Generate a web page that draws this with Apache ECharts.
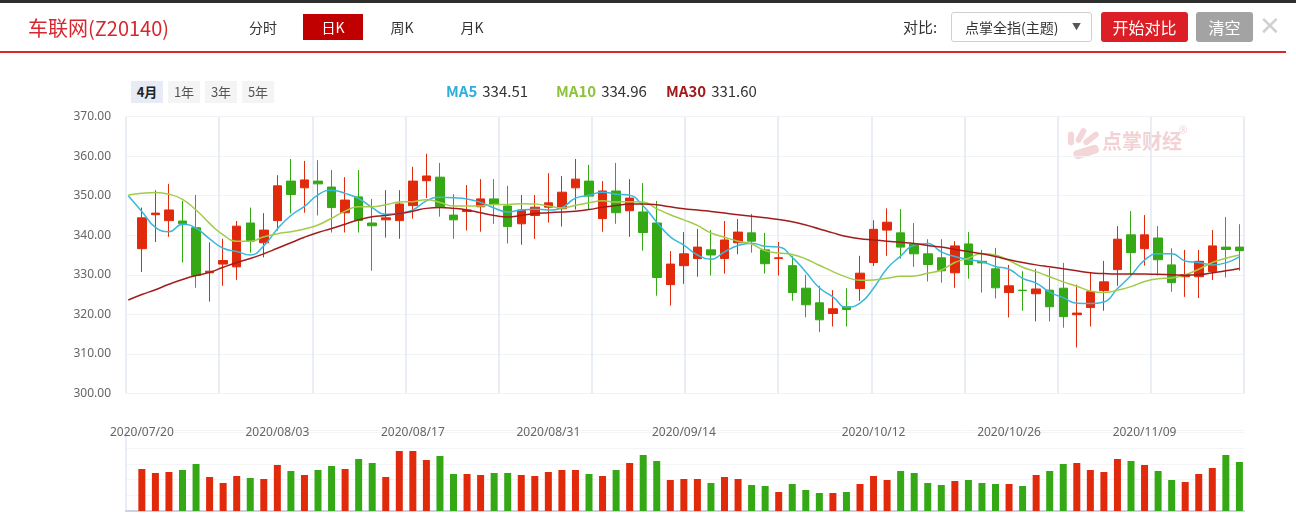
<!DOCTYPE html>
<html>
<head>
<meta charset="utf-8">
<script src="https://cdn.jsdelivr.net/npm/echarts@6/dist/echarts.min.js"></script>
<style>
  html, body { margin: 0; padding: 0; background: #fff; }
  body { width: 1296px; height: 515px; position: relative; overflow: hidden;
         font-family: "Noto Sans CJK SC", "Noto Sans", sans-serif; color: #333; }
  #main { position: absolute; left: 0; top: 0; width: 1296px; height: 515px; }
  .abs { position: absolute; white-space: nowrap; }
  .topbar { left: 0; top: 0; width: 1296px; height: 3px; background: #2e2e2e; }
  .title { left: 28px; top: 13px; font-size: 20px; line-height: 30px; color: #d7262e; }
  .tab { top: 14px; height: 26px; line-height: 26px; font-size: 14px; text-align: center; width: 60px; }
  .tab.on { background: #c00000; color: #fff; }
  .redline { left: 0; top: 51px; width: 1286px; height: 2px; background: #d7262e; }
  .sel { left: 951px; top: 12px; width: 139px; height: 28px; border: 1px solid #d0d0d0; border-radius: 3px;
         font-size: 14px; line-height: 28px; }
  .btn { top: 12px; height: 30px; line-height: 30px; font-size: 16px; color: #fff; text-align: center; border-radius: 3px; }
  .rng { top: 81px; height: 22px; width: 32px; line-height: 22px; font-size: 13px; text-align: center; background: #f4f4f4; color: #555; }
  .ma { top: 80px; font-size: 15px; line-height: 22px; }
  .ma b { margin-right: 5px; }
</style>
</head>
<body>
<div id="main"></div>
<div class="abs topbar"></div>
<div class="abs title">车联网(Z20140)</div>
<div class="abs tab" style="left:233px">分时</div>
<div class="abs tab on" style="left:303px">日K</div>
<div class="abs tab" style="left:372px">周K</div>
<div class="abs tab" style="left:442px">月K</div>
<div class="abs" style="left:903px;top:14px;font-size:15px;line-height:26px">对比:</div>
<div class="abs sel"><span style="margin-left:13px">点掌全指(主题)</span><span style="position:absolute;left:120px;top:0;font-size:9px;color:#555">▼</span></div>
<div class="abs btn" style="left:1101px;width:87px;background:#dc1f26">开始对比</div>
<div class="abs btn" style="left:1196px;width:57px;background:#a3a3a3">清空</div>
<div class="abs" style="left:1259px;top:8px;font-size:26px;line-height:32px;color:#d0d0d0">✕</div>
<div class="abs redline"></div>
<div class="abs rng" style="left:131px;background:#e6ebf5;color:#222;font-weight:bold">4月</div>
<div class="abs rng" style="left:168px">1年</div>
<div class="abs rng" style="left:205px">3年</div>
<div class="abs rng" style="left:242px">5年</div>
<div class="abs ma" style="left:446px"><b style="color:#2eaed8">MA5</b>334.51</div>
<div class="abs ma" style="left:556px"><b style="color:#8dc33b">MA10</b>334.96</div>
<div class="abs ma" style="left:666px"><b style="color:#a01a1a">MA30</b>331.60</div>

<script>
// trading days, first one is the day before the window (only the MA lines start there)
const dates = [
  '2020/07/17',
  '2020/07/20','2020/07/21','2020/07/22','2020/07/23','2020/07/24','2020/07/27','2020/07/28','2020/07/29','2020/07/30','2020/07/31',
  '2020/08/03','2020/08/04','2020/08/05','2020/08/06','2020/08/07','2020/08/10','2020/08/11','2020/08/12','2020/08/13','2020/08/14',
  '2020/08/17','2020/08/18','2020/08/19','2020/08/20','2020/08/21','2020/08/24','2020/08/25','2020/08/26','2020/08/27','2020/08/28',
  '2020/08/31','2020/09/01','2020/09/02','2020/09/03','2020/09/04','2020/09/07','2020/09/08','2020/09/09','2020/09/10','2020/09/11',
  '2020/09/14','2020/09/15','2020/09/16','2020/09/17','2020/09/18','2020/09/21','2020/09/22','2020/09/23','2020/09/24','2020/09/25',
  '2020/09/28','2020/09/29','2020/09/30','2020/10/09','2020/10/12','2020/10/13','2020/10/14','2020/10/15','2020/10/16','2020/10/19',
  '2020/10/20','2020/10/21','2020/10/22','2020/10/23','2020/10/26','2020/10/27','2020/10/28','2020/10/29','2020/10/30','2020/11/02',
  '2020/11/03','2020/11/04','2020/11/05','2020/11/06','2020/11/09','2020/11/10','2020/11/11','2020/11/12','2020/11/13','2020/11/16',
  '2020/11/17','2020/11/18'
];
const tickDates = ['2020/07/20', '2020/08/03', '2020/08/17', '2020/08/31', '2020/09/14', '2020/10/12', '2020/10/26', '2020/11/09'];

const kOpen = [336.6,345.2,343.7,343.6,341.9,330.5,332.7,332.0,343.1,338.1, 343.7,353.7,352.0,353.7,352.2,345.7,349.7,343.1,343.9,343.7,
  347.5,353.8,354.7,345.1,346.0,347.2,349.2,347.4,342.9,345.0, 347.1,346.7,352.0,353.7,344.2,351.2,346.2,345.9,343.1,327.5,
  332.3,334.1,336.3,334.1,338.1,340.6,336.3,334.1,332.3,326.6, 322.9,320.2,321.9,326.5,333.1,341.3,340.6,337.8,335.3,334.3,
  330.5,337.8,333.4,331.5,325.5,326.1,325.2,326.1,326.6,319.9, 321.7,326.0,331.3,340.1,336.6,339.3,332.5,329.5,329.5,330.8,
  337.0,337.0];
const kClose = [344.4,345.6,346.4,342.9,329.8,330.9,333.6,342.3,338.5,341.3, 352.5,350.3,354.0,353.0,347.0,348.9,343.7,342.4,344.4,347.9,
  353.7,355.0,347.2,343.9,346.4,349.2,347.9,342.2,346.4,347.1, 348.2,350.9,354.2,349.9,351.2,345.7,349.4,340.7,329.3,332.7,
  335.3,337.0,335.0,338.8,340.8,338.5,332.8,334.3,325.5,322.4, 318.6,321.4,321.2,330.4,341.5,343.3,337.0,335.3,332.6,331.0,
  337.3,332.6,333.0,326.7,327.2,326.0,326.4,321.9,319.4,320.3, 325.7,328.2,339.0,335.6,340.1,333.8,328.0,330.0,333.4,337.3,
  336.4,336.1];
const kLow = [330.7,338.3,339.6,333.1,326.7,323.2,327.2,328.7,335.6,334.4, 341.2,345.5,345.7,345.0,340.7,340.7,340.7,331.0,339.4,339.1,
  344.2,349.4,344.7,339.1,341.2,340.9,342.9,337.9,337.6,339.1, 343.2,342.2,346.5,346.4,340.9,342.9,339.6,336.1,324.7,322.2,
  327.7,329.5,329.8,330.3,335.2,335.6,330.3,329.8,323.4,319.2, 315.5,316.9,316.9,323.4,332.2,334.8,334.1,332.0,328.3,328.0,
  326.7,329.0,325.5,324.0,319.2,320.9,318.2,318.2,316.6,311.6, 316.9,320.9,327.2,330.0,332.3,329.8,325.7,324.4,324.1,328.7,
  329.3,331.0];
const kHigh = [347.0,351.4,353.0,348.7,350.2,338.2,339.1,343.6,347.0,345.6, 355.2,359.3,358.8,359.0,356.5,354.7,356.5,349.2,351.4,351.4,
  357.3,360.6,358.3,350.4,352.7,354.2,354.2,352.5,350.2,350.2, 355.7,355.0,359.3,357.8,353.7,358.3,354.2,353.2,348.7,336.0,
  340.8,341.6,341.3,343.6,344.1,345.4,340.6,338.3,334.8,330.0, 327.2,326.1,326.6,334.8,343.8,346.8,346.6,343.1,339.0,339.0,
  338.5,340.8,336.3,336.8,332.5,330.9,331.5,331.7,333.0,327.5, 330.6,333.5,342.3,346.1,345.1,342.3,336.7,336.3,336.3,341.3,
  344.6,342.8];

// moving averages (83 points, starting on the day before)
const ma5 = [350.0, 346.0,342.0,340.9,342.8,341.8,339.1,336.7,335.9,335.0,337.3, 341.6,345.0,347.3,350.2,351.4,350.6,349.3,347.0,345.3,345.5,
  346.4,348.7,349.6,349.5,349.2,348.3,346.9,345.9,346.4,346.6, 346.4,347.0,349.4,350.1,350.9,350.4,350.1,347.4,343.3,339.6,
  337.5,335.0,333.9,335.8,337.4,338.0,337.2,337.0,334.4,330.7, 326.7,324.4,321.8,322.8,326.6,331.6,334.7,337.5,337.9,335.8,
  334.6,333.8,333.3,332.1,331.4,329.1,327.9,325.6,324.2,322.8, 322.7,323.1,326.5,329.8,333.7,335.3,335.3,333.5,333.1,332.5,
  333.0,334.5];
const ma10 = [350.2, 350.6,350.8,350.4,349.1,346.4,343.0,340.1,338.5,338.5,339.6, 340.4,340.9,341.6,342.6,344.3,346.1,347.2,347.2,347.7,348.4,
  348.5,349.0,348.3,347.4,347.4,347.4,347.8,347.8,348.0,347.9, 347.4,346.9,347.6,348.2,348.7,348.4,348.5,348.4,346.7,345.2,
  343.9,342.5,340.6,339.5,338.5,337.8,336.1,335.5,335.1,334.0, 332.4,330.8,329.4,328.6,328.7,329.1,329.6,329.7,330.4,331.2,
  333.1,334.2,335.4,335.0,333.6,331.9,330.8,329.5,328.2,327.1, 325.9,325.5,326.1,327.0,328.3,329.0,329.2,330.0,331.4,333.1,
  334.2,335.0];
const ma30 = [323.6, 325.0,326.2,327.6,328.8,329.8,330.6,331.9,333.1,334.1,335.3, 336.7,338.1,339.5,340.7,341.7,342.8,343.9,344.7,345.0,345.5,
  346.1,346.8,347.0,346.8,346.4,345.7,345.0,344.6,345.0,345.5, 345.7,345.9,346.1,346.5,347.1,347.5,347.9,347.9,347.7,347.2,
  346.7,346.4,346.0,345.6,345.2,344.8,344.4,344.0,343.4,342.6, 341.6,340.6,339.7,339.1,338.8,338.5,338.2,337.9,337.4,337.0,
  336.4,335.9,335.3,334.6,333.8,333.1,332.5,332.0,331.5,331.0, 330.5,330.3,330.2,330.2,330.2,330.1,330.0,329.9,330.0,330.5,
  331.0,331.6];

// volume, relative units
const volume = [126,114,117,123,141,102,84,105,99,96, 138,120,108,123,135,126,156,144,102,180,
  180,153,165,111,111,108,114,114,108,105, 117,123,123,111,105,123,144,168,150,93,
  96,96,84,102,96,78,75,57,81,63, 54,54,57,81,105,93,120,114,84,78,
  90,93,84,81,81,75,108,120,141,144, 123,117,156,150,138,120,93,87,111,129,
  168,147];

const UP = '#e1290c';
const DOWN = '#35a816';

const kData = ['-'];
const volData = ['-'];
for (let i = 0; i < kOpen.length; i++) {
  kData.push([kOpen[i], kClose[i], kLow[i], kHigh[i]]);
  volData.push({ value: volume[i], itemStyle: { color: kClose[i] >= kOpen[i] ? UP : DOWN } });
}

const chart = echarts.init(document.getElementById('main'));

const gridMain = { top: 116.7, height: 276.6 };
const gridVol = { top: 430, height: 81 };

const option = {
  animation: false,
  grid: [
    { left: 126, right: 52, top: gridMain.top, height: gridMain.height },
    { left: 128.3, right: 56.6, top: gridMain.top, height: gridMain.height },
    { left: 126, right: 52, top: gridVol.top, height: gridVol.height },
    { left: 128.3, right: 56.6, top: gridVol.top, height: gridVol.height },
  ],
  xAxis: [
    {
      gridIndex: 0, type: 'value', min: 0, max: 12, interval: 1,
      axisLine: { show: false }, axisTick: { show: false }, axisLabel: { show: false },
      splitLine: { show: true, lineStyle: { color: '#e2e8f0', width: 1.5 } },
    },
    {
      gridIndex: 1, type: 'category', data: dates, boundaryGap: false,
      axisLine: { show: false }, axisTick: { show: false },
      axisLabel: {
        interval: (idx, val) => tickDates.indexOf(val) >= 0,
        margin: 33, color: '#666', fontSize: 12, fontFamily: 'Noto Sans',
      },
      splitLine: { show: false },
    },
    {
      gridIndex: 2, type: 'value', min: 0, max: 12,
      axisLine: { show: true, lineStyle: { color: '#c9d2e6', width: 2 } },
      axisTick: { show: false }, axisLabel: { show: false }, splitLine: { show: false },
    },
    {
      gridIndex: 3, type: 'category', data: dates, boundaryGap: false,
      axisLine: { show: false }, axisTick: { show: false }, axisLabel: { show: false },
    },
  ],
  yAxis: [
    {
      gridIndex: 0, type: 'value', min: 300, max: 370, interval: 10,
      axisLine: { show: false }, axisTick: { show: false },
      axisLabel: { formatter: (v) => v.toFixed(2), color: '#666', fontSize: 12, margin: 15, fontFamily: 'Noto Sans' },
      splitLine: { lineStyle: { color: '#f2f3f5' } },
    },
    { gridIndex: 1, type: 'value', min: 300, max: 370, show: false },
    {
      gridIndex: 2, type: 'value', min: 0, max: 243, interval: 47,
      axisLine: { show: true, lineStyle: { color: '#e2e8f0', width: 1.5 } },
      axisTick: { show: false }, axisLabel: { show: false },
      splitLine: { lineStyle: { color: '#f3f4f6' } },
    },
    { gridIndex: 3, type: 'value', min: 0, max: 243, show: false },
  ],
  graphic: [
    {
      type: 'group', left: 1068, top: 127, silent: true,
      children: [
        { type: 'rect', shape: { x: 0, y: 4, width: 6, height: 14, r: 3 }, style: { fill: '#f4d6d8' } },
        { type: 'rect', shape: { x: 10, y: 0, width: 6, height: 16, r: 3 }, rotation: -0.5, originX: 13, originY: 8, style: { fill: '#f4d6d8' } },
        { type: 'rect', shape: { x: 20, y: 2, width: 6, height: 18, r: 3 }, rotation: -0.9, originX: 23, originY: 11, style: { fill: '#f4d6d8' } },
        { type: 'rect', shape: { x: 5, y: 20, width: 26, height: 9, r: 4 }, rotation: 0.3, originX: 18, originY: 24, style: { fill: '#f4d6d8' } },
      ],
    },
    {
      type: 'text', left: 1102, top: 131, silent: true,
      style: { text: '点掌财经', fill: '#f3d2d5', font: 'bold 20px "Noto Sans CJK SC"' },
    },
    {
      type: 'text', left: 1179, top: 126, silent: true,
      style: { text: '®', fill: '#f3d2d5', font: '10px "Noto Sans"' },
    },
  ],
  series: [
    {
      type: 'candlestick', xAxisIndex: 1, yAxisIndex: 1, data: kData, barWidth: 9,
      itemStyle: { color: UP, color0: DOWN, borderColor: UP, borderColor0: DOWN, borderWidth: 1 },
    },
    {
      name: 'MA5', type: 'line', xAxisIndex: 1, yAxisIndex: 1, data: ma5, smooth: true, showSymbol: false,
      lineStyle: { color: '#3ab7dc', width: 1.5 },
    },
    {
      name: 'MA10', type: 'line', xAxisIndex: 1, yAxisIndex: 1, data: ma10, smooth: true, showSymbol: false,
      lineStyle: { color: '#a3cb4a', width: 1.5 },
    },
    {
      name: 'MA30', type: 'line', xAxisIndex: 1, yAxisIndex: 1, data: ma30, smooth: true, showSymbol: false,
      lineStyle: { color: '#a11d1d', width: 1.5 },
    },
    {
      type: 'bar', xAxisIndex: 3, yAxisIndex: 3, data: volData, barWidth: 7,
    },
  ],
};

chart.setOption(option);
</script>
</body>
</html>
